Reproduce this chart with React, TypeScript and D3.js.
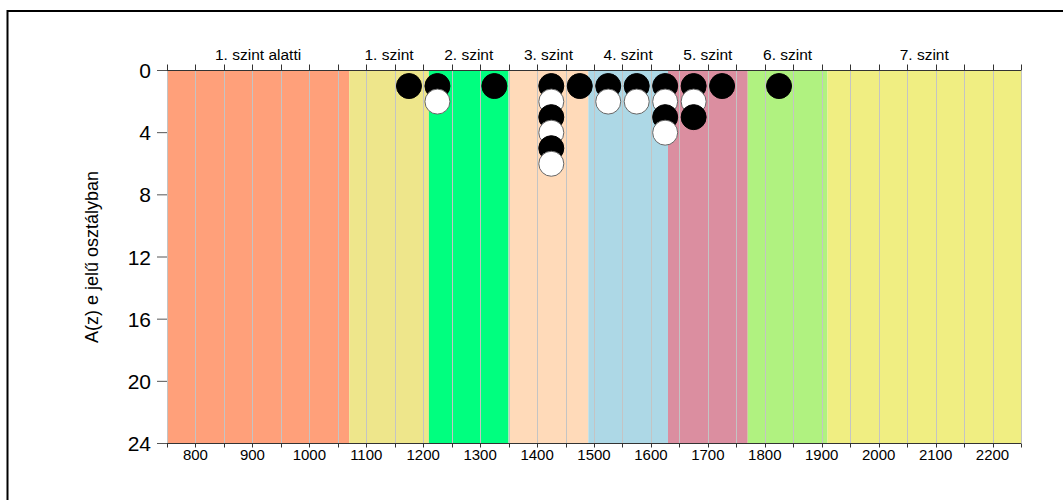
import React from "react";
import * as d3 from "d3";

const bandNames = ["1. szint alatti", "1. szint", "2. szint", "3. szint", "4. szint", "5. szint", "6. szint", "7. szint"];
const bandStarts = [750, 1070, 1210, 1350, 1490, 1630, 1770, 1910];
const bandEnds = [1070, 1210, 1350, 1490, 1630, 1770, 1910, 2250];
const bandColors = ["#FFA07A", "#EEE68B", "#00FF7F", "#FFDAB9", "#ADD8E6", "#DB8EA0", "#B0F280", "#F0EE82"];

const blackX = [1175, 1225, 1325, 1425, 1425, 1425, 1475, 1525, 1575, 1625, 1625, 1675, 1675, 1725, 1825];
const blackY = [1, 1, 1, 1, 3, 5, 1, 1, 1, 1, 3, 1, 3, 1, 1];
const whiteX = [1225, 1425, 1425, 1425, 1525, 1575, 1625, 1625, 1675];
const whiteY = [2, 2, 4, 6, 2, 2, 2, 4, 2];

const xTickLabels = [800, 900, 1000, 1100, 1200, 1300, 1400, 1500, 1600, 1700, 1800, 1900, 2000, 2100, 2200];
const yTickLabels = [0, 4, 8, 12, 16, 20, 24];
const yTitle = "A(z) e jelű osztályban";

const FONT = "'Liberation Sans', Arial, sans-serif";

export default function App() {
  const x = d3.scaleLinear().domain([750, 2250]).range([167, 1021]);
  const y = d3.scaleLinear().domain([0, 24]).range([70.5, 443.5]);
  const gridVals = d3.range(750, 2251, 50);
  const [y0, y1] = y.range();

  const pts = [
    ...blackX.map((v, i) => ({ x: v, y: blackY[i], c: "black" })),
    ...whiteX.map((v, i) => ({ x: v, y: whiteY[i], c: "white" })),
  ].sort((a, b) => a.y - b.y);

  return (
    <div style={{ position: "absolute", left: 0, top: 0 }}>
      <svg width={1063} height={500} style={{ display: "block", fontFamily: FONT }}>
        <rect x={0} y={0} width={1063} height={500} fill="white" />
        <rect x={7.5} y={11} width={1200} height={1000} fill="none" stroke="#000" strokeWidth={2} />
        {bandNames.map((n, i) => (
          <rect key={n} x={x(bandStarts[i])} y={y0} width={x(bandEnds[i]) - x(bandStarts[i])} height={y1 - y0} fill={bandColors[i]} />
        ))}
        {gridVals.map((v) => (
          <line key={"g" + v} x1={Math.round(x(v)) + 0.5} x2={Math.round(x(v)) + 0.5} y1={y0} y2={y1} stroke="#c4c4c4" strokeWidth={1} />
        ))}
        {gridVals.map((v) => (
          <line key={"t" + v} x1={Math.round(x(v)) + 0.5} x2={Math.round(x(v)) + 0.5} y1={y0 - 6} y2={y0} stroke="#333" strokeWidth={1} />
        ))}
        {gridVals.map((v) => (
          <line key={"b" + v} x1={Math.round(x(v)) + 0.5} x2={Math.round(x(v)) + 0.5} y1={y1} y2={y1 + 4} stroke="#333" strokeWidth={1} />
        ))}
        <line x1={x(750)} x2={x(2250)} y1={y0} y2={y0} stroke="#333" />
        <line x1={x(750)} x2={x(2250)} y1={y1} y2={y1} stroke="#333" />
        {yTickLabels.map((v) => (
          <g key={"y" + v}>
            <line x1={157} x2={167} y1={y(v)} y2={y(v)} stroke="#555" />
            <text x={151} y={y(v)} dy="0.36em" textAnchor="end" fontSize={21} fill="#000">{v}</text>
          </g>
        ))}
        {xTickLabels.map((v) => (
          <text key={"xl" + v} x={x(v)} y={460} textAnchor="middle" fontSize={15} fill="#000">{v}</text>
        ))}
        {bandNames.map((n, i) => (
          <text key={"bl" + n} x={(x(bandStarts[i]) + x(bandEnds[i])) / 2} y={60} textAnchor="middle" fontSize={15.5} fill="#000">{n}</text>
        ))}
        <text transform={`translate(98,${(y0 + y1) / 2}) rotate(-90)`} textAnchor="middle" fontSize={18} fill="#000">{yTitle}</text>
        {pts.map((p, i) => (
          <circle key={"p" + i} cx={x(p.x)} cy={y(p.y)} r={12.5} fill={p.c === "black" ? "#000" : "#fff"} stroke={p.c === "black" ? "#000" : "#666"} strokeWidth={1} />
        ))}
      </svg>
    </div>
  );
}
